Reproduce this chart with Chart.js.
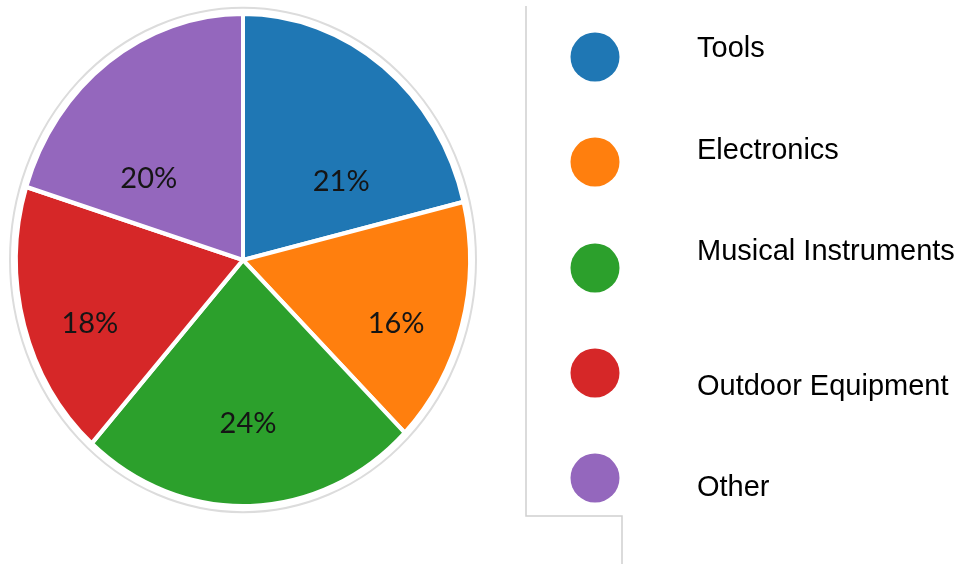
<!DOCTYPE html>
<html>
<head>
<meta charset="utf-8">
<style>
	html, body { margin: 0; padding: 0; background: #fff; }
	canvas { display: block; }
</style>
<script src="https://cdn.jsdelivr.net/npm/chart.js@4/dist/chart.umd.min.js"></script>
</head>
<body>
<canvas id="pieChart" width="961" height="564"></canvas>
<script>
const categories = ["Tools", "Electronics", "Musical Instruments", "Outdoor Equipment", "Other"];
const shares = [21, 16, 24, 18, 20];
const shareLabels = ["21%", "16%", "24%", "18%", "20%"];
const sliceColors = ["#1f77b4", "#ff7f0e", "#2ca02c", "#d62728", "#9467bd"];

// the original pie is a bit taller than wide
const stretchY = 244 / 225;

const ellipsePlugin = {
	id: "ellipse",
	beforeDatasetsDraw(chart) {
		const arc = chart.getDatasetMeta(0).data[0];
		const ctx = chart.ctx;
		ctx.save();
		ctx.translate(arc.x, arc.y);
		ctx.scale(1, stretchY);
		ctx.translate(-arc.x, -arc.y);
	},
	afterDatasetsDraw(chart) {
		const ctx = chart.ctx;
		ctx.restore();
		const arcs = chart.getDatasetMeta(0).data;
		const cx = arcs[0].x;
		const cy = arcs[0].y;
		const r = arcs[0].outerRadius;

		// faint ring round the pie
		ctx.save();
		ctx.strokeStyle = "#dcdcdc";
		ctx.lineWidth = 2;
		ctx.beginPath();
		ctx.ellipse(cx, cy, r + 6, r * stretchY + 6, 0, 0, Math.PI * 2);
		ctx.stroke();

		// percentage labels
		ctx.fillStyle = "#151515";
		ctx.font = "29px Lato";
		ctx.textAlign = "center";
		ctx.textBaseline = "middle";
		arcs.forEach((a, i) => {
			const mid = (a.startAngle + a.endAngle) / 2;
			const x = cx + Math.cos(mid) * r * 0.7;
			const y = cy + Math.sin(mid) * r * 0.55 * stretchY + 28;
			ctx.fillText(shareLabels[i], x, y);
		});
		ctx.restore();
	},
};

const legendPlugin = {
	id: "sideLegend",
	afterDraw(chart) {
		const ctx = chart.ctx;
		const dotY = [57, 162, 268, 373, 478];
		const textY = [49, 151, 252, 387, 488];
		ctx.save();

		// grey frame lines
		ctx.strokeStyle = "#d0d0d0";
		ctx.lineWidth = 1.5;
		ctx.beginPath();
		ctx.moveTo(526, 6);
		ctx.lineTo(526, 516);
		ctx.lineTo(622, 516);
		ctx.lineTo(622, 564);
		ctx.stroke();

		categories.forEach((name, i) => {
			ctx.fillStyle = sliceColors[i];
			ctx.beginPath();
			ctx.arc(595, dotY[i], 24.5, 0, Math.PI * 2);
			ctx.fill();
			ctx.fillStyle = "#000";
			ctx.font = "29px 'Liberation Sans'";
			ctx.textAlign = "left";
			ctx.textBaseline = "middle";
			ctx.fillText(name, 697, textY[i]);
		});
		ctx.restore();
	},
};

new Chart(document.getElementById("pieChart"), {
	type: "pie",
	data: {
		labels: categories,
		datasets: [
			{
				data: shares,
				backgroundColor: sliceColors,
				borderColor: "#ffffff",
				borderWidth: 4,
			},
		],
	},
	options: {
		responsive: false,
		animation: false,
		layout: { padding: { left: 14, right: 489, top: 31, bottom: 75 } },
		plugins: {
			legend: { display: false },
			tooltip: { enabled: false },
		},
	},
	plugins: [ellipsePlugin, legendPlugin],
});
</script>
</body>
</html>
